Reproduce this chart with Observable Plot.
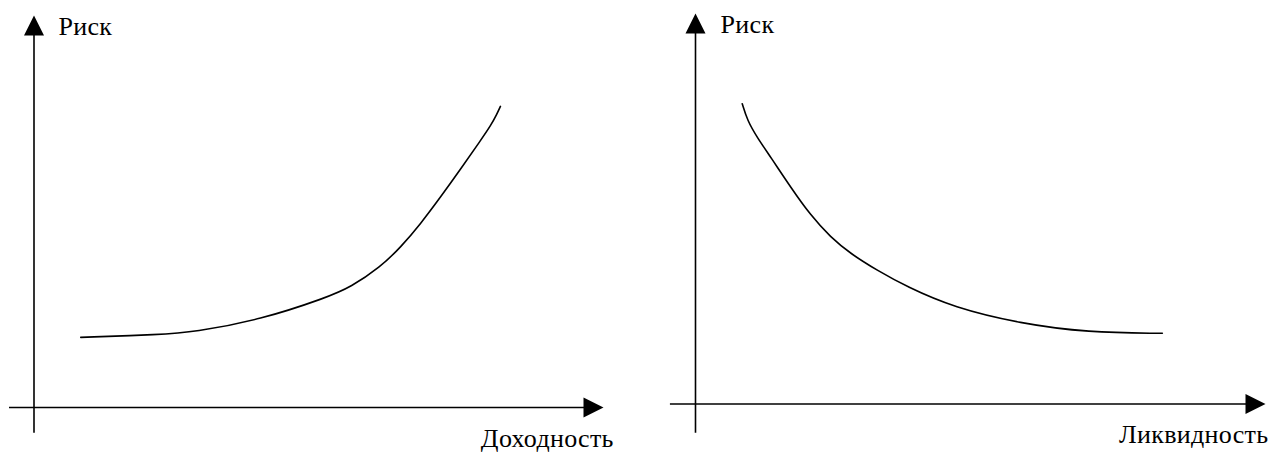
<!DOCTYPE html>
<html>
<head>
<meta charset="utf-8">
<script src="https://cdn.jsdelivr.net/npm/d3@7"></script>
<script src="https://cdn.jsdelivr.net/npm/@observablehq/plot@0.6"></script>
<style>
  html, body { margin: 0; padding: 0; background: #fff; }
  #wrap { display: flex; width: 1270px; height: 452px; overflow: hidden; }
  #wrap svg { display: block; overflow: visible; }
  #wrap svg text { font-family: "Liberation Serif", "Times New Roman", serif; letter-spacing: 0.3px; }
</style>
</head>
<body>
<div id="wrap"></div>
<script>
// ---- Data (in axis units: 0 = origin, 10 = arrow tip) ----
const yLabel = "Риск";
const xLabels = ["Доходность", "Ликвидность"];

// Left panel: risk vs. return (Доходность)
const returnX  = [0.82, 2.22, 2.8, 3.98, 5.15, 5.56, 6.08, 6.44, 6.79, 7.14, 7.49, 7.84, 8.02, 8.13, 8.19];
const riskLeft = [1.79, 1.86, 1.92, 2.24, 2.81, 3.07, 3.58, 4.09, 4.69, 5.37, 6.08, 6.81, 7.19, 7.49, 7.68];

// Right panel: risk vs. liquidity (Ликвидность)
const liquidityX = [0.82, 0.91, 1.08, 1.32, 1.67, 2.02, 2.37, 2.72, 3.19, 3.71, 4.53, 5.7, 6.88, 8.19];
const riskRight  = [7.69, 7.26, 6.83, 6.32, 5.55, 4.83, 4.27, 3.85, 3.42, 3.0, 2.47, 2.06, 1.83, 1.81];

// ---- Drawing ----
const arrowHead = {
  draw(ctx) {
    ctx.moveTo(0, 0);
    ctx.lineTo(-10, 20);
    ctx.lineTo(10, 20);
    ctx.closePath();
  }
};

const font = "Liberation Serif";

function panel({xs, ys, xLabel, xRange, yRange, xAxisStart, yAxisStart, xLabelPos, yLabelPos}) {
  const pts = xs.map((x, i) => ({x, y: ys[i]}));
  return Plot.plot({
    width: 635,
    height: 452,
    margin: 0,
    style: {fontFamily: font, background: "transparent", overflow: "visible"},
    x: {domain: [0, 10], range: xRange, axis: null},
    y: {domain: [0, 10], range: yRange, axis: null},
    marks: [
      Plot.ruleY([0], {x1: xAxisStart, x2: 9.9, stroke: "black", strokeWidth: 1.6}),
      Plot.ruleX([0], {y1: yAxisStart, y2: 9.9, stroke: "black", strokeWidth: 1.6}),
      Plot.dot([{x: 0, y: 10}], {x: "x", y: "y", symbol: arrowHead, fill: "black", stroke: "none"}),
      Plot.dot([{x: 10, y: 0}], {x: "x", y: "y", symbol: arrowHead, rotate: 90, fill: "black", stroke: "none"}),
      Plot.line(pts, {x: "x", y: "y", curve: "basis", stroke: "black", strokeWidth: 1.6}),
      Plot.text([yLabel], {x: yLabelPos[0], y: yLabelPos[1], text: d => d, textAnchor: "start", lineAnchor: "bottom", fontSize: 26, fontFamily: font, fill: "black"}),
      Plot.text([xLabel], {x: xLabelPos[0], y: xLabelPos[1], text: d => d, textAnchor: "end", lineAnchor: "bottom", fontSize: 26, fontFamily: font, fill: "black"})
    ]
  });
}

const wrap = document.getElementById("wrap");
wrap.append(panel({
  xs: returnX, ys: riskLeft, xLabel: xLabels[0],
  xRange: [33.5, 603], yRange: [407, 15],
  xAxisStart: -0.43, yAxisStart: -0.66,
  xLabelPos: [10.18, -1.02], yLabelPos: [0.43, 9.49]
}));
wrap.append(panel({
  xs: liquidityX, ys: riskRight, xLabel: xLabels[1],
  xRange: [60, 630], yRange: [403.5, 13],
  xAxisStart: -0.44, yAxisStart: -0.75,
  xLabelPos: [10.05, -1.01], yLabelPos: [0.44, 9.51]
}));
</script>
</body>
</html>
